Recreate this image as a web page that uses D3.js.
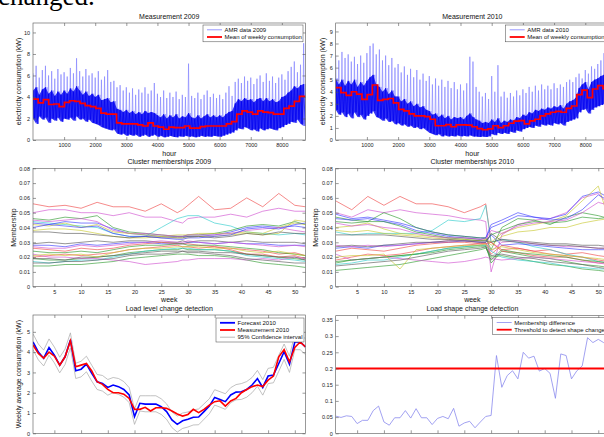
<!DOCTYPE html>
<html>
<head>
<meta charset="utf-8">
<script src="https://cdn.jsdelivr.net/npm/d3@7"></script>
<style>
body { margin: 0; background: #fff; }
svg { display: block; font-family: "Liberation Sans", Arial, sans-serif; }
.ax text { font-size: 5.5px; fill: #222; font-family: "Liberation Sans", Arial, sans-serif; }
.ax line { stroke: #555; stroke-width: 0.6; }
.lbl { font-size: 7px; fill: #111; }
.leg { font-size: 6px; fill: #111; }
</style>
</head>
<body>
<script>
// ---- hourly AMR readings, sampled every 100 h (peak / dense top / low) ----
var amrHours = d3.range(0, 8760, 100);
var amr2009Hi = [6.2,6.9,5.8,6.5,6.9,6.0,6.4,5.7,6.6,6.1, 6.3,5.9,6.7,6.2,7.6,6.4,5.9,6.6,6.0,6.2,
  5.8,6.4,5.6,5.9,6.5,5.4,5.5,4.9,5.1,4.6, 4.9,4.4,4.8,4.2,4.7,4.4,4.9,4.3,4.6,5.3,
  4.3,4.0,4.6,3.9,4.4,4.0,4.5,3.8,4.2,4.0, 7.1,4.1,3.9,4.4,3.8,4.2,4.6,4.0,4.3,3.9,
  4.2,3.8,4.4,5.0,4.1,5.4,5.7,5.3,5.9,5.5, 5.8,5.2,5.7,6.0,5.4,6.2,5.5,5.9,5.3,5.8,
  6.1,5.6,6.4,6.8,7.3,6.3,7.0,9.0];
var amr2009Core = [4.6,4.9,4.2,4.7,4.9,4.3,4.6,4.1,4.5,4.2, 4.6,4.3,4.8,4.5,5.0,4.6,4.2,4.5,4.1,4.3,
  4.0,4.2,3.7,3.8,3.9,3.5,3.6,2.9,2.8,2.6, 2.8,2.5,2.7,2.4,2.6,2.4,2.7,2.5,2.6,2.5,
  2.3,2.1,2.4,2.0,2.3,2.1,2.4,2.0,2.2,2.1, 2.5,2.1,2.0,2.3,2.0,2.2,2.4,2.1,2.3,2.1,
  2.3,2.1,2.4,2.6,2.7,3.4,3.8,3.6,3.9,3.7, 3.8,3.5,3.8,3.9,3.6,3.9,3.6,3.8,3.5,3.6,
  4.0,4.1,4.4,4.6,5.0,4.8,5.1,5.2];
var amr2009Lo = [2.0,1.5,2.2,1.9,2.1,1.6,2.0,1.8,2.1,1.7, 2.0,1.9,2.1,1.8,2.2,1.9,2.0,1.7,1.9,1.6,
  1.5,1.4,1.2,1.1,1.0,0.9,1.0,0.6,0.5,0.6, 0.4,0.5,0.4,0.5,0.3,0.4,0.5,0.3,0.4,0.5,
  0.3,0.4,0.25,0.3,0.4,0.3,0.25,0.35,0.3,0.4, 0.3,0.35,0.25,0.3,0.4,0.3,0.35,0.3,0.4,0.35,
  0.3,0.4,0.5,0.6,0.7,0.9,1.1,1.0,1.2,1.1, 0.9,1.0,0.8,1.1,0.9,1.0,1.1,1.0,0.9,1.1,
  1.2,1.4,1.5,1.7,1.6,1.9,1.5,1.3];
var amr2010Hi = [7.0,6.6,7.3,6.8,7.1,6.5,6.9,6.3,7.0,6.4, 7.2,7.8,8.0,7.1,7.5,6.6,7.0,6.2,6.8,6.0,
  6.3,5.6,6.1,5.4,5.9,5.2,5.8,5.0,5.5,4.9, 5.3,4.6,5.1,4.5,5.0,4.4,4.9,4.3,4.8,4.2,
  4.6,4.1,4.7,6.9,6.5,4.4,4.0,3.6,3.9,3.4, 5.3,4.0,6.2,3.6,4.0,3.5,3.9,3.6,4.1,3.7,
  4.2,3.9,4.4,4.0,4.5,4.1,4.6,4.2,4.5,4.2, 4.7,4.3,4.6,4.4,4.8,5.0,4.8,5.2,5.5,5.1,
  5.8,5.5,6.1,5.9,6.3,6.6,7.2,8.0];
var amr2010Core = [5.1,4.6,5.0,4.5,4.9,4.6,5.0,4.4,4.8,4.5, 4.9,5.2,5.4,4.6,4.4,4.0,4.3,3.8,4.1,3.6,
  3.6,3.2,3.4,3.0,3.2,2.8,3.0,2.7,2.8,2.5, 2.4,2.1,2.2,1.9,2.1,1.8,2.0,1.7,1.9,1.8,
  1.9,1.7,2.0,2.2,1.9,1.7,1.6,1.4,1.5,1.4, 1.7,1.5,1.8,1.4,1.6,1.5,1.7,1.6,1.9,1.8,
  2.1,2.0,2.3,2.2,2.5,2.4,2.6,2.5,2.7,2.6, 2.8,2.7,2.9,2.6,3.0,3.2,3.3,3.5,4.3,4.6,
  4.8,4.2,4.8,5.0,5.1,5.3,5.4,5.0];
var amr2010Lo = [2.5,2.1,2.3,1.9,2.2,1.8,2.3,1.9,2.1,1.7, 2.0,2.2,2.4,1.9,1.8,1.6,1.8,1.5,1.6,1.3,
  1.4,1.2,1.3,1.1,1.2,1.0,1.1,0.9,1.0,0.8, 0.6,0.5,0.4,0.5,0.3,0.4,0.3,0.35,0.3,0.4,
  0.3,0.35,0.3,0.4,0.3,0.3,0.25,0.3,0.25,0.3, 0.5,0.4,0.6,0.5,0.6,0.5,0.7,0.6,0.8,0.7,
  0.9,1.0,1.1,1.0,1.2,1.1,1.3,1.2,1.3,1.2, 1.4,1.3,1.4,1.2,1.5,1.6,1.7,1.8,2.3,2.5,
  2.6,2.2,2.5,2.7,2.8,2.9,3.0,2.7];

// ---- weekly means (52 weeks) ----
var weeks = d3.range(1, 53);
var mean2009 = [3.8,3.45,3.75,3.3,3.35,3.1,3.5,3.65,3.6,3.4, 3.2,3.1,2.95,2.5,2.4,2.4,1.6,1.5,1.5,1.5,
  1.4,1.3,1.6,1.3,1.2,1.0,1.2,1.15,1.15,1.3, 1.1,1.1,1.25,1.3,1.3,1.3,1.3,1.5,1.7,2.4,
  2.7,2.6,2.4,2.7,2.6,2.55,2.4,2.4,2.95,3.15, 3.6,4.05];
var meas2010 = [4.35,3.93,3.7,4.0,3.8,3.36,3.77,4.56,3.28,3.36, 3.44,3.07,2.54,2.41,2.16,2.0,2.0,1.93,1.72,1.18,
  1.18,1.28,1.1,1.26,1.26,1.23,1.1,0.95,0.85,0.93, 1.18,1.02,1.18,1.39,1.56,1.6,1.34,1.59,1.72,2.0,
  2.16,2.3,2.38,2.3,2.62,2.82,3.77,4.13,3.52,4.23, 4.5,4.26];
var forecast2010 = [4.5,4.0,3.7,4.23,3.85,3.36,3.77,4.6,3.08,3.16, 3.41,2.95,2.54,2.46,2.26,2.38,2.3,2.16,1.89,0.82,
  1.48,1.44,1.44,1.44,1.31,1.07,0.66,0.44,0.62,0.69, 0.79,0.8,1.07,1.34,1.77,1.67,1.56,1.89,2.03,2.05,
  2.16,2.38,2.7,2.26,2.82,2.87,3.44,4.02,3.4,4.5, 4.5,4.26];
var ciUpper = [4.9,4.4,4.1,4.65,4.25,3.75,4.15,4.95,3.45,3.55, 3.8,3.35,2.9,2.85,2.65,2.75,2.7,2.55,2.25,1.2,
  1.85,1.85,1.85,1.85,1.7,1.45,1.05,0.85,1.0,1.05, 1.15,1.2,1.45,1.7,2.15,2.05,1.95,2.25,2.4,2.45,
  2.55,2.75,3.1,2.65,3.2,3.25,3.85,4.4,3.8,4.9, 4.9,4.65];
var ciLower = [4.12,3.62,3.32,3.85,3.47,2.98,3.39,4.22,2.7,2.78, 3.03,2.57,2.16,2.08,1.88,2.0,1.92,1.78,1.51,0.44,
  1.1,1.06,1.06,1.06,0.93,0.69,0.28,0.06,0.24,0.31, 0.41,0.42,0.69,0.96,1.39,1.29,1.18,1.51,1.65,1.67,
  1.78,2.0,2.32,1.88,2.45,2.49,3.06,3.64,3.0,4.12, 4.12,3.88];
var memDiff = [0.053,0.049,0.054,0.052,0.030,0.040,0.040,0.070,0.084,0.035, 0.025,0.048,0.048,0.070,0.047,0.076,0.048,0.048,0.027,0.046,
  0.052,0.045,0.077,0.022,0.032,0.037,0.017,0.035,0.052,0.055, 0.240,0.142,0.178,0.193,0.168,0.250,0.232,0.238,0.192,0.200,
  0.185,0.108,0.245,0.240,0.168,0.193,0.208,0.295,0.280,0.290, 0.280,0.290];
var shapeThreshold = 0.2;

// ---- cluster memberships, read at these weeks ----
var memWeeks = [1,4,7,10,13,16,19,22,25,28,29,30,32,35,38,41,44,47,50,52];
var mem2009Colors = ["r","m","c","b","g","y","m","y","k","b","b","k","m","r","g","g","g","c","r","m","k","k","y"];
var mem2009 = [
  [.056,.054,.055,.053,.057,.054,.054,.051,.056,.050,.052,.055,.061,.052,.053,.060,.054,.063,.055,.054],
  [.050,.052,.052,.050,.050,.048,.050,.047,.047,.044,.043,.046,.047,.047,.049,.047,.051,.053,.051,.051],
  [.044,.043,.042,.041,.040,.036,.034,.034,.040,.046,.047,.048,.048,.043,.041,.037,.036,.035,.036,.035],
  [.043,.042,.044,.043,.043,.039,.036,.035,.034,.034,.034,.034,.034,.035,.037,.040,.041,.040,.041,.040],
  [.046,.045,.047,.046,.048,.040,.037,.036,.035,.034,.034,.035,.035,.036,.038,.041,.042,.041,.044,.042],
  [.038,.039,.039,.038,.036,.034,.033,.033,.034,.035,.035,.035,.036,.036,.036,.037,.036,.040,.043,.042],
  [.045,.044,.045,.046,.044,.038,.036,.036,.035,.034,.034,.035,.035,.035,.036,.038,.039,.040,.038,.037],
  [.042,.041,.043,.040,.042,.037,.036,.035,.034,.033,.033,.033,.034,.034,.035,.036,.035,.036,.045,.044],
  [.037,.037,.036,.036,.035,.034,.033,.034,.033,.033,.033,.034,.034,.033,.034,.036,.035,.037,.036,.036],
  [.040,.042,.041,.040,.041,.036,.034,.034,.033,.032,.032,.033,.033,.034,.035,.039,.040,.039,.042,.043],
  [.028,.028,.027,.029,.028,.029,.030,.030,.029,.029,.029,.030,.030,.029,.030,.029,.029,.028,.028,.028],
  [.029,.030,.029,.030,.031,.030,.031,.031,.030,.030,.031,.030,.031,.031,.030,.031,.030,.030,.030,.029],
  [.027,.026,.026,.028,.027,.028,.029,.030,.031,.030,.030,.031,.030,.029,.030,.029,.028,.027,.028,.027],
  [.026,.025,.024,.026,.025,.026,.028,.029,.030,.029,.029,.029,.028,.027,.026,.025,.024,.022,.023,.021],
  [.024,.023,.023,.024,.023,.025,.027,.028,.028,.029,.029,.028,.028,.028,.027,.026,.025,.023,.022,.021],
  [.019,.018,.018,.019,.020,.021,.023,.024,.025,.025,.026,.025,.025,.025,.024,.022,.021,.020,.019,.018],
  [.014,.014,.015,.015,.016,.017,.019,.020,.021,.022,.022,.022,.021,.021,.020,.018,.016,.015,.014,.013],
  [.017,.016,.017,.018,.018,.020,.022,.024,.025,.026,.026,.026,.025,.025,.024,.021,.020,.019,.018,.017],
  [.020,.021,.022,.021,.022,.023,.025,.026,.027,.028,.027,.027,.026,.027,.025,.022,.022,.020,.021,.019],
  [.022,.020,.020,.019,.019,.018,.017,.015,.016,.017,.018,.018,.019,.019,.019,.018,.019,.018,.020,.019],
  [.019,.019,.018,.020,.020,.021,.022,.023,.024,.024,.024,.024,.024,.023,.023,.022,.021,.020,.020,.018],
  [.016,.016,.017,.017,.018,.019,.021,.022,.022,.023,.024,.023,.023,.022,.021,.019,.018,.017,.016,.016],
  [.021,.022,.021,.022,.020,.023,.025,.026,.026,.027,.027,.027,.027,.026,.026,.024,.023,.024,.022,.021]
];
var mem2010Colors = ["r","m","c","b","g","y","b","g","m","y","k","b","m","r","k","g","g","c","r","m","g","y","k"];
var mem2010 = [
  [.058,.052,.061,.055,.061,.056,.056,.054,.050,.054,.056,.030,.025,.026,.024,.025,.022,.023,.021,.020],
  [.050,.047,.052,.050,.052,.050,.049,.048,.046,.045,.044,.010,.035,.042,.045,.046,.050,.060,.063,.055],
  [.037,.035,.036,.036,.036,.036,.038,.045,.044,.046,.055,.030,.032,.030,.027,.025,.022,.020,.017,.016],
  [.049,.046,.047,.045,.043,.040,.037,.035,.034,.033,.033,.042,.045,.050,.047,.046,.049,.061,.064,.060],
  [.047,.045,.044,.050,.046,.040,.037,.035,.034,.033,.033,.025,.040,.046,.045,.042,.047,.050,.048,.046],
  [.040,.041,.043,.039,.036,.035,.034,.033,.033,.032,.033,.030,.036,.040,.042,.044,.048,.058,.068,.045],
  [.046,.045,.046,.044,.042,.038,.036,.034,.033,.032,.033,.040,.043,.048,.047,.045,.046,.052,.062,.058],
  [.044,.043,.044,.044,.041,.037,.035,.033,.032,.031,.031,.035,.038,.042,.044,.043,.044,.047,.046,.047],
  [.043,.041,.042,.040,.039,.036,.034,.033,.033,.032,.032,.038,.036,.041,.043,.044,.045,.050,.057,.055],
  [.038,.037,.038,.036,.035,.034,.033,.032,.032,.031,.032,.028,.034,.037,.038,.040,.040,.043,.045,.046],
  [.035,.035,.035,.035,.034,.033,.032,.032,.031,.031,.031,.030,.032,.031,.030,.029,.029,.028,.028,.027],
  [.026,.027,.026,.028,.028,.029,.030,.030,.031,.030,.030,.035,.028,.029,.028,.027,.026,.025,.025,.025],
  [.028,.027,.028,.027,.028,.029,.030,.031,.031,.030,.030,.024,.030,.031,.029,.028,.027,.027,.026,.026],
  [.024,.026,.025,.024,.026,.028,.029,.030,.030,.029,.029,.022,.028,.026,.024,.022,.021,.020,.018,.017],
  [.027,.028,.027,.028,.029,.030,.030,.031,.031,.030,.030,.036,.031,.030,.029,.028,.028,.027,.026,.026],
  [.016,.018,.019,.020,.021,.022,.024,.026,.027,.028,.028,.016,.024,.022,.020,.019,.017,.015,.014,.013],
  [.011,.012,.013,.014,.015,.017,.019,.021,.023,.025,.026,.020,.021,.019,.017,.015,.014,.012,.011,.010],
  [.015,.016,.018,.018,.020,.022,.024,.026,.027,.028,.028,.024,.020,.018,.017,.016,.014,.013,.012,.012],
  [.018,.020,.022,.021,.022,.024,.026,.027,.028,.029,.029,.030,.024,.023,.021,.020,.020,.018,.016,.016],
  [.022,.018,.019,.020,.019,.018,.017,.016,.017,.019,.020,.019,.018,.019,.020,.019,.018,.017,.016,.015],
  [.017,.018,.019,.020,.021,.022,.023,.025,.026,.027,.027,.018,.025,.023,.022,.021,.020,.018,.017,.016],
  [.020,.021,.021,.022,.012,.025,.026,.027,.028,.028,.029,.025,.027,.025,.023,.022,.021,.020,.019,.018],
  [.014,.015,.016,.017,.018,.020,.022,.024,.025,.026,.027,.021,.022,.020,.019,.017,.016,.015,.013,.012]
];

// matlab-ish line colours
var mcol = {b: "#3a3aff", g: "#2f9a2f", r: "#f04848", c: "#30cccc", m: "#d050d0", y: "#c8c830", k: "#5a5a5a"};

var svg = d3.select("body").append("svg")
    .attr("width", 604)
    .attr("height", 437);

// bit of page text cut off above the figure
svg.append("text")
    .attr("x", -2).attr("y", 4.5)
    .style("font-family", "'Liberation Serif', serif")
    .style("font-size", "27px")
    .text("changed.");

var clipCount = 0;

function makeAxes(p) {
  var w = p.right - p.left, h = p.bottom - p.top;
  var g = svg.append("g").attr("transform", "translate(" + p.left + "," + p.top + ")");
  var x = d3.scaleLinear().domain(p.xDomain).range([0, w]);
  var y = d3.scaleLinear().domain(p.yDomain).range([h, 0]);
  var id = "clip" + (clipCount++);
  g.append("clipPath").attr("id", id).append("rect").attr("width", w).attr("height", h);
  var plot = g.append("g").attr("clip-path", "url(#" + id + ")");
  return {g: g, plot: plot, x: x, y: y, w: w, h: h, p: p};
}

function finishAxes(a) {
  var p = a.p, g = a.g;
  var fmt = p.yFmt || function(d) { return d; };
  g.append("g").attr("class", "ax").attr("transform", "translate(0," + a.h + ")")
      .call(d3.axisBottom(a.x).tickValues(p.xTicks).tickSize(-3).tickPadding(3.5)
          .tickFormat(function(d) { return d; }));
  g.append("g").attr("class", "ax")
      .call(d3.axisTop(a.x).tickValues(p.xTicks).tickSize(-3).tickFormat(""));
  g.append("g").attr("class", "ax")
      .call(d3.axisLeft(a.y).tickValues(p.yTicks).tickSize(-3).tickPadding(3).tickFormat(fmt));
  g.append("g").attr("class", "ax").attr("transform", "translate(" + a.w + ",0)")
      .call(d3.axisRight(a.y).tickValues(p.yTicks).tickSize(-3).tickFormat(""));
  g.selectAll(".ax .domain").remove();
  g.append("rect")
      .attr("width", a.w).attr("height", a.h)
      .attr("fill", "none").attr("stroke", "#555").attr("stroke-width", 0.6);
  g.append("text").attr("class", "lbl")
      .attr("x", a.w / 2).attr("y", -4.5)
      .attr("text-anchor", "middle").text(p.title);
  if (p.xlabel) {
    g.append("text").attr("class", "lbl")
        .attr("x", a.w / 2).attr("y", a.h + 15.5)
        .attr("text-anchor", "middle").text(p.xlabel);
  }
  if (p.ylabel) {
    g.append("text").attr("class", "lbl")
        .attr("transform", "translate(" + (p.ylabelX - p.left) + "," + (a.h / 2) + ") rotate(-90)")
        .attr("text-anchor", "middle").text(p.ylabel);
  }
}

function legend(x0, y0, w, items) {
  var lg = svg.append("g").attr("transform", "translate(" + x0 + "," + y0 + ")");
  lg.append("rect")
      .attr("width", w).attr("height", items.length * 7.2 + 2.4)
      .attr("fill", "#fff").attr("stroke", "#444").attr("stroke-width", 0.5);
  items.forEach(function(it, i) {
    var yy = 4.8 + i * 7.2;
    lg.append("line")
        .attr("x1", 4).attr("x2", 19).attr("y1", yy).attr("y2", yy)
        .attr("stroke", it.color).attr("stroke-width", it.width);
    lg.append("text").attr("class", "leg")
        .attr("x", 21.5).attr("y", yy).attr("dy", "0.35em").text(it.label);
  });
}

var fmt2 = function(d) { return d === 0 ? "0" : String(+d.toFixed(2)); };

// ---- top row: hourly measurements ----
function amrPanel(p, hi, core, lo, means, year) {
  var a = makeAxes(p);
  var spikes = [], dense = [];
  amrHours.forEach(function(h, i) {
    spikes.push([h, hi[i]]); spikes.push([h + 25, lo[i]]);
    spikes.push([h + 50, core[i]]); spikes.push([h + 75, lo[i]]);
    dense.push([h, core[i]]); dense.push([h + 50, lo[i]]);
  });
  var line = d3.line().x(function(d) { return a.x(d[0]); }).y(function(d) { return a.y(d[1]); });
  a.plot.append("path").datum(spikes)
      .attr("d", line).attr("fill", "none")
      .attr("stroke", "#8080ff").attr("stroke-opacity", 0.7).attr("stroke-width", 0.9);
  a.plot.append("path").datum(amrHours)
      .attr("d", d3.area()
          .x(function(h) { return a.x(h); })
          .y0(function(h, i) { return a.y(lo[i]); })
          .y1(function(h, i) { return a.y(core[i]); }))
      .attr("fill", "#1414f2").attr("fill-opacity", 0.85);
  a.plot.append("path").datum(dense)
      .attr("d", line).attr("fill", "none")
      .attr("stroke", "#0000f0").attr("stroke-width", 0.7);
  // weekly mean as a step line
  var steps = means.map(function(v, i) { return [i * 168, v]; });
  steps.push([8760, means[means.length - 1]]);
  a.plot.append("path").datum(steps)
      .attr("d", line.curve(d3.curveStepAfter))
      .attr("fill", "none").attr("stroke", "#ff0000").attr("stroke-width", 1.7);
  finishAxes(a);
  legend(p.legX, 25, 100, [
    {label: "AMR data " + year, color: "#7d7dff", width: 0.8},
    {label: "Mean of weekly consumption", color: "#ff0000", width: 1.8}
  ]);
}

amrPanel({left: 33, right: 305.5, top: 23, bottom: 140, xDomain: [0, 8760], yDomain: [0, 10.88],
  xTicks: d3.range(1000, 9000, 1000), yTicks: [0, 2, 4, 6, 8, 10],
  title: "Measurement 2009", xlabel: "hour", ylabel: "electricity consumption (kW)", ylabelX: 21, legX: 203},
  amr2009Hi, amr2009Core, amr2009Lo, mean2009, 2009);

amrPanel({left: 335.7, right: 609, top: 23, bottom: 140, xDomain: [0, 8760], yDomain: [0, 9.7],
  xTicks: d3.range(1000, 9000, 1000), yTicks: d3.range(0, 10),
  title: "Measurement 2010", xlabel: "hour", ylabel: "electricity consumption (kW)", ylabelX: 325, legX: 505.7},
  amr2010Hi, amr2010Core, amr2010Lo, meas2010, 2010);

// ---- middle row: cluster memberships ----
function memberPanel(p, series, colors) {
  var a = makeAxes(p);
  var line = d3.line()
      .x(function(d, i) { return a.x(memWeeks[i]); })
      .y(function(d) { return a.y(d); });
  a.plot.selectAll(".mem").data(series).enter().append("path")
      .attr("class", "mem")
      .attr("d", line)
      .attr("fill", "none")
      .attr("stroke", function(d, i) { return mcol[colors[i]]; })
      .attr("stroke-width", 0.75)
      .attr("stroke-opacity", 0.85);
  finishAxes(a);
}

memberPanel({left: 33, right: 305.5, top: 168.3, bottom: 286.7, xDomain: [1, 52], yDomain: [0, 0.08],
  xTicks: d3.range(5, 55, 5), yTicks: d3.range(0, 0.085, 0.01), yFmt: fmt2,
  title: "Cluster memberships 2009", xlabel: "week", ylabel: "Membership", ylabelX: 16},
  mem2009, mem2009Colors);

memberPanel({left: 335.7, right: 609, top: 168.3, bottom: 286.7, xDomain: [1, 52], yDomain: [0, 0.08],
  xTicks: d3.range(5, 55, 5), yTicks: d3.range(0, 0.085, 0.01), yFmt: fmt2,
  title: "Cluster memberships 2010", xlabel: "week", ylabel: "Membership", ylabelX: 318},
  mem2010, mem2010Colors);

// ---- bottom left: load level change detection ----
(function() {
  var p = {left: 33, right: 305.5, top: 315, bottom: 433.3, xDomain: [1, 52], yDomain: [0, 5.83],
    xTicks: d3.range(5, 55, 5), yTicks: d3.range(0, 6),
    title: "Load level change detection", ylabel: "Weekly average consumption (kW)", ylabelX: 21};
  var a = makeAxes(p);
  function wline(vals) {
    return d3.line().x(function(d, i) { return a.x(weeks[i]); }).y(function(d) { return a.y(d); })(vals);
  }
  [ciUpper, ciLower].forEach(function(s) {
    a.plot.append("path").attr("d", wline(s)).attr("fill", "none")
        .attr("stroke", "#a8a8a8").attr("stroke-width", 0.7);
  });
  a.plot.append("path").attr("d", wline(forecast2010)).attr("fill", "none")
      .attr("stroke", "#0000ff").attr("stroke-width", 1.6);
  a.plot.append("path").attr("d", wline(meas2010)).attr("fill", "none")
      .attr("stroke", "#ff0000").attr("stroke-width", 1.6);
  finishAxes(a);
  legend(216, 318, 88, [
    {label: "Forecast 2010", color: "#0000ff", width: 1.8},
    {label: "Measurement 2010", color: "#ff0000", width: 1.8},
    {label: "95% Confidence interval", color: "#a8a8a8", width: 0.8}
  ]);
})();

// ---- bottom right: load shape change detection ----
(function() {
  var p = {left: 335.7, right: 609, top: 315.7, bottom: 433.3, xDomain: [1, 52], yDomain: [0, 0.363],
    xTicks: d3.range(5, 55, 5), yTicks: d3.range(0, 0.36, 0.05), yFmt: fmt2,
    title: "Load shape change detection"};
  var a = makeAxes(p);
  a.plot.append("path").datum(memDiff)
      .attr("d", d3.line().x(function(d, i) { return a.x(weeks[i]); }).y(function(d) { return a.y(d); }))
      .attr("fill", "none").attr("stroke", "#8a8aee").attr("stroke-width", 0.8);
  a.plot.append("line")
      .attr("x1", a.x(1)).attr("x2", a.x(52))
      .attr("y1", a.y(shapeThreshold)).attr("y2", a.y(shapeThreshold))
      .attr("stroke", "#ff0000").attr("stroke-width", 2.2);
  finishAxes(a);
  legend(492.7, 317.7, 130, [
    {label: "Membership difference", color: "#8a8aee", width: 0.8},
    {label: "Threshold to detect shape change", color: "#ff0000", width: 1.8}
  ]);
})();
</script>
</body>
</html>
